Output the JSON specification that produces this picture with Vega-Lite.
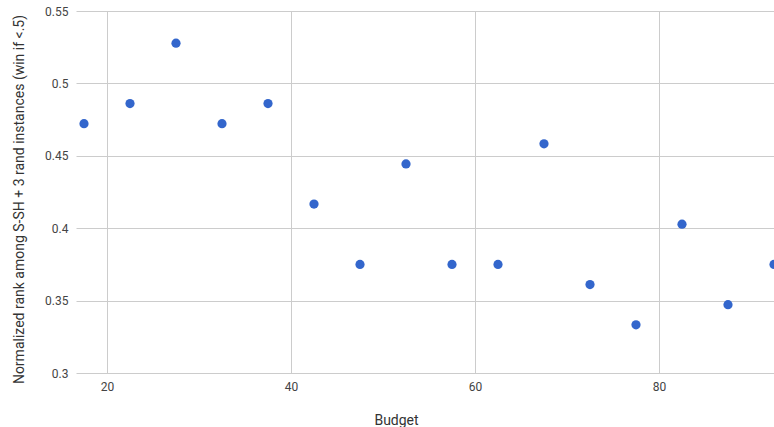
{
  "$schema": "https://vega.github.io/schema/vega-lite/v6.json",
  "width": 698,
  "height": 362,
  "autosize": "none",
  "padding": {"left": 76, "top": 11, "right": 0, "bottom": 54},
  "background": "white",
  "config": {
    "view": {"stroke": null},
    "font": "Roboto",
    "axis": {
      "domain": false,
      "ticks": false,
      "gridColor": "#cccccc",
      "gridWidth": 1,
      "labelColor": "#444444",
      "labelFont": "Roboto",
      "labelFontSize": 12,
      "titleFont": "Roboto",
      "titleFontSize": 14,
      "titleFontWeight": "normal",
      "titleColor": "#333333"
    }
  },
  "data": {
    "values": [
      {"budget": 17.5, "rank": 0.4722},
      {"budget": 22.5, "rank": 0.4861},
      {"budget": 27.5, "rank": 0.5278},
      {"budget": 32.5, "rank": 0.4722},
      {"budget": 37.5, "rank": 0.4861},
      {"budget": 42.5, "rank": 0.4167},
      {"budget": 47.5, "rank": 0.375},
      {"budget": 52.5, "rank": 0.4444},
      {"budget": 57.5, "rank": 0.375},
      {"budget": 62.5, "rank": 0.375},
      {"budget": 67.5, "rank": 0.4583},
      {"budget": 72.5, "rank": 0.3611},
      {"budget": 77.5, "rank": 0.3333},
      {"budget": 82.5, "rank": 0.4028},
      {"budget": 87.5, "rank": 0.3472},
      {"budget": 92.5, "rank": 0.375}
    ]
  },
  "mark": {"type": "point", "filled": true, "size": 85, "color": "#3366cc", "opacity": 1},
  "encoding": {
    "x": {
      "field": "budget",
      "type": "quantitative",
      "title": "Budget",
      "scale": {"domain": [16.63, 92.5], "nice": false, "zero": false},
      "axis": {"values": [20, 40, 60, 80], "labelPadding": 8, "titlePadding": 21, "titleX": 320}
    },
    "y": {
      "field": "rank",
      "type": "quantitative",
      "title": "Normalized rank among S-SH + 3 rand instances (win if <.5)",
      "scale": {"domain": [0.3, 0.55], "nice": false, "zero": false},
      "axis": {"values": [0.3, 0.35, 0.4, 0.45, 0.5, 0.55], "format": ".2~f", "labelPadding": 8, "titlePadding": 18, "titleY": 188}
    }
  }
}
